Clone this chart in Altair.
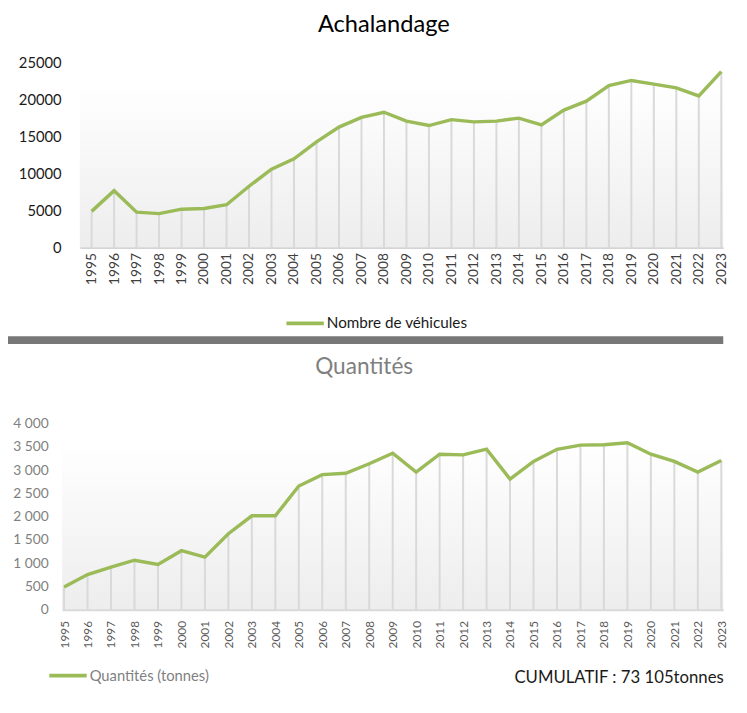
import altair as alt
import pandas as pd

YEARS = ["1995", "1996", "1997", "1998", "1999", "2000", "2001", "2002", "2003", "2004",
         "2005", "2006", "2007", "2008", "2009", "2010", "2011", "2012", "2013", "2014",
         "2015", "2016", "2017", "2018", "2019", "2020", "2021", "2022", "2023"]
VEHICULES = [4900, 7700, 4800, 4600, 5200, 5300, 5800, 8300, 10600, 12000,
             14300, 16300, 17600, 18300, 17100, 16500, 17300, 17000, 17100, 17500,
             16600, 18600, 19800, 21900, 22600, 22100, 21600, 20500, 23800]
QUANTITES = [490, 755, 915, 1065, 975, 1270, 1130, 1635, 2020, 2020,
             2660, 2905, 2935, 3140, 3365, 2960, 3345, 3330, 3455, 2810,
             3190, 3450, 3540, 3550, 3590, 3345, 3190, 2960, 3210]
TOP_TICKS = [0, 5000, 10000, 15000, 20000, 25000]
BOT_TICKS = [0, 500, 1000, 1500, 2000, 2500, 3000, 3500, 4000]
TOP_TITLE = "Achalandage"
BOT_TITLE = "Quantités"
TOP_SERIES = "Nombre de véhicules"
BOT_SERIES = "Quantités (tonnes)"
CUMUL = "CUMULATIF : 73 105tonnes"

FONT = "Lato"
GREEN = "#9bbb59"
DROP = "#d9d9d9"

top_df = pd.DataFrame({"year": YEARS, "value": VEHICULES, "series": TOP_SERIES})
bot_df = pd.DataFrame({"year": YEARS, "value": QUANTITES, "series": BOT_SERIES})

W, H_T, H_B = 654, 188, 189
B_LEFT = -18  # bottom panel's axis starts further left than the top one

grad = alt.Gradient(
    gradient="linear",
    stops=[alt.GradientStop(color="#ffffff", offset=0),
           alt.GradientStop(color="#ededed", offset=1)],
    x1=0, x2=0, y1=0, y2=1,
)


def panel(df, x0, H, ymax, xscale, xaxis, yaxis, legend, title, grad_top, extra=None):
    yscale = alt.Scale(domain=[0, ymax], nice=False)
    x = alt.X("year:O", sort=YEARS, scale=xscale, axis=xaxis)
    y = alt.Y("value:Q", scale=yscale, axis=yaxis, title=None)
    bg = alt.Chart(alt.Data(values=[{}])).mark_rect(fill=grad).encode(
        x=alt.value(x0), x2=alt.value(W),
        y=alt.Y(datum=grad_top, scale=yscale, axis=yaxis, title=None),
        y2=alt.datum(0))
    rules = alt.Chart(df).mark_rule(color=DROP, strokeWidth=2).encode(
        x=x, y=y, y2=alt.datum(0))
    line = alt.Chart(df).mark_line(strokeWidth=3.5).encode(
        x=x, y=y,
        color=alt.Color("series:N", scale=alt.Scale(range=[GREEN]), legend=legend))
    layers = [bg, rules, line]
    if extra is not None:
        layers.append(extra)
    return alt.layer(*layers).properties(width=W, height=H, title=title)


top_x_axis = alt.Axis(title=None, labelAngle=270, labelFontSize=14, labelColor="#404040",
                      labelPadding=5, domainColor="#d4d4d4", domainWidth=2, ticks=False,
                      grid=False, zindex=1, labelFont=FONT, labelOverlap=False)
top_y_axis = alt.Axis(values=TOP_TICKS, format="d", domain=False, ticks=False, grid=False,
                      labelPadding=19, labelFontSize=15, labelColor="#1a1a1a", labelFont=FONT,
                      labelOverlap=False)
top_legend = alt.Legend(title=None, orient="none", legendX=208, legendY=244,
                        symbolType="stroke", symbolSize=1444, symbolStrokeWidth=4,
                        labelFontSize=15.5, labelColor="#1a1a1a", labelOffset=1, labelFont=FONT)
top_title = alt.TitleParams(TOP_TITLE, fontSize=24, color="#000000", font=FONT,
                            fontWeight="normal", anchor="middle", dx=-18, offset=0,
                            baseline="alphabetic")
band = alt.Chart(alt.Data(values=[{}])).mark_rect(color="#777777").encode(
    x=alt.value(-73), x2=alt.value(W), y=alt.value(278), y2=alt.value(286))

top = panel(top_df, 0, H_T, 25000,
            alt.Scale(type="point", padding=0.306, align=0.857),
            top_x_axis, top_y_axis, top_legend, top_title, 22300, extra=band)

bot_x_axis = alt.Axis(title=CUMUL, titleAnchor="end", titleFontSize=17, titleFontWeight="normal",
                      titleColor="#1a1a1a", titlePadding=22, titleFont=FONT,
                      labelAngle=270, labelFontSize=12, labelColor="#595959",
                      labelPadding=11, domainColor="#d9d9d9", domainWidth=2, ticks=False,
                      grid=False, zindex=1, labelFont=FONT, labelOverlap=False)
bot_y_axis = alt.Axis(values=BOT_TICKS, labelExpr="replace(format(datum.value, ','), ',', ' ')",
                      domain=False, ticks=False, grid=False, labelPadding=32,
                      labelFontSize=14, labelColor="#7f7f7f", labelFont=FONT,
                      labelOverlap=False)
bot_legend = alt.Legend(title=None, orient="none", legendX=-33, legendY=235,
                        symbolType="stroke", symbolSize=1444, symbolStrokeWidth=4,
                        labelFontSize=15, labelColor="#7f7f7f", labelOffset=1, labelFont=FONT)
bot_title = alt.TitleParams(BOT_TITLE, fontSize=23, color="#7f7f7f", font=FONT,
                            fontWeight="normal", anchor="middle", dx=-38, offset=21,
                            baseline="alphabetic")

bottom = panel(bot_df, B_LEFT, H_B, 4000,
               alt.Scale(type="point", padding=0.0838, align=0.5, range=[B_LEFT, W]),
               bot_x_axis, bot_y_axis, bot_legend, bot_title, 3577)

chart = alt.vconcat(top, bottom, spacing=12).resolve_scale(
    color="independent", x="independent", y="independent"
).resolve_legend(color="independent").properties(
    padding={"left": 0, "top": 0, "right": -2, "bottom": -4}
).configure(font=FONT).configure_view(stroke=None)

chart.save("out.html", embed_options={"renderer": "svg", "actions": False})
